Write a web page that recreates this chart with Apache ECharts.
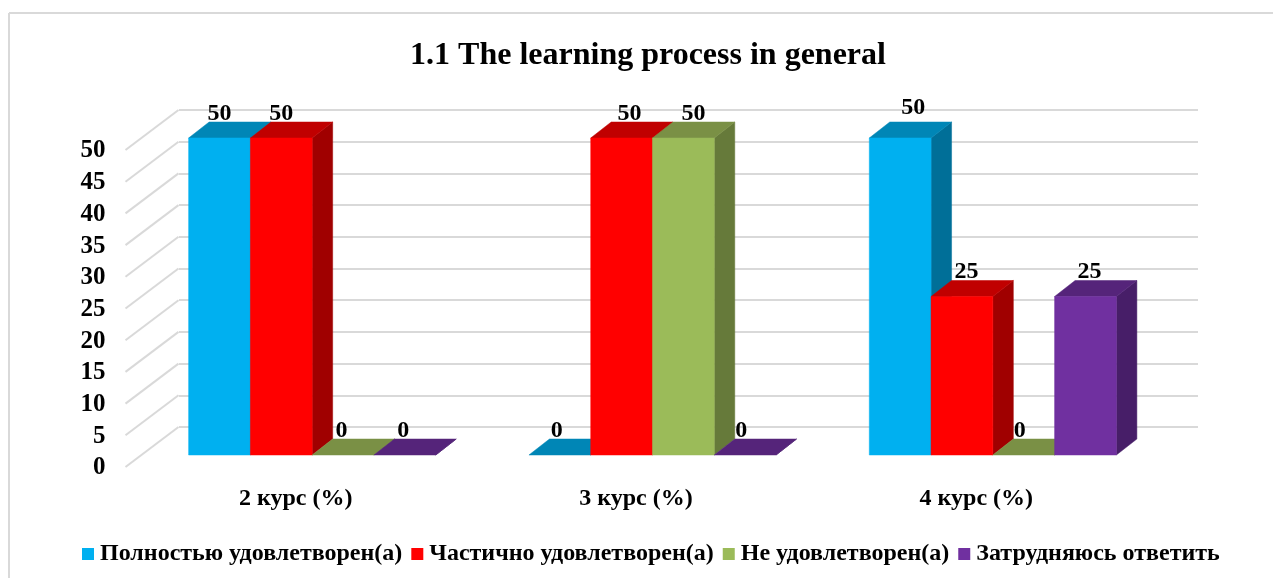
<!DOCTYPE html>
<html>
<head>
<meta charset="utf-8">
<style>
  html, body { margin: 0; padding: 0; background: #fff; }
  #chart { width: 1273px; height: 578px; }
</style>
<script src="https://cdn.jsdelivr.net/npm/echarts@6/dist/echarts.min.js"></script>
</head>
<body>
<div id="chart"></div>
<script>
const chartTitle = '1.1 The learning process in general';
const categories = ['2 курс (%)', '3 курс (%)', '4 курс (%)'];
const seriesNames = ['Полностью удовлетворен(а)', 'Частично удовлетворен(а)', 'Не удовлетворен(а)', 'Затрудняюсь ответить'];
const fullySatisfied = [50, 0, 50];
const partlySatisfied = [50, 50, 25];
const notSatisfied = [0, 50, 0];
const hardToSay = [0, 0, 25];
const yTicks = [0, 5, 10, 15, 20, 25, 30, 35, 40, 45, 50];

const seriesValues = [fullySatisfied, partlySatisfied, notSatisfied, hardToSay];

// front, top and side colours of each bar
const palette = [
    ['#00B0F0', '#0086B6', '#006F98'],
    ['#FF0000', '#C00000', '#A00000'],
    ['#9BBB59', '#7A9045', '#667A3A'],
    ['#7030A0', '#55247A', '#471E68']
];

// oblique projection: where the bars stand between the front edge and the back wall
const wallShift = [53, -40];
const barFront = [16.5, -12];
const barDepth = [20.5, -16];
const barRatio = 0.1815;

// hand placed data labels in the original, series by category
const labelNudge = [
    [[0, 0], [-3, 0], [13, -6]],
    [[0, 0], [8, 0], [4.5, 0]],
    [[-1.5, 0], [10, 0], [-4, 0]],
    [[-1.5, 0], [-4, 0], [4, 0]]
];

const font = 'Liberation Serif';

function poly(points, color) {
    return {
        type: 'polygon',
        shape: { points: points },
        style: { fill: color, stroke: color, lineWidth: 0.5 }
    };
}

function barItem(seriesIndex) {
    return function (params, api) {
        const cat = api.value(0);
        const value = api.value(1);
        const band = api.size([1, 0])[0];
        const w = band * barRatio;
        const base = api.coord([cat, 0]);
        const top = api.coord([cat, value]);
        const x0 = base[0] + barFront[0] + (seriesIndex - 2) * w;
        const x1 = x0 + w;
        const yBase = base[1] + barFront[1];
        const yTop = top[1] + barFront[1];
        const dx = barDepth[0];
        const dy = barDepth[1];
        const nudge = labelNudge[seriesIndex][cat];
        const colors = palette[seriesIndex];
        const children = [
            poly([[x1, yBase], [x1 + dx, yBase + dy], [x1 + dx, yTop + dy], [x1, yTop]], colors[2]),
            poly([[x0, yTop], [x1, yTop], [x1 + dx, yTop + dy], [x0 + dx, yTop + dy]], colors[1])
        ];
        if (value > 0) {
            children.push({
                type: 'rect',
                shape: { x: x0, y: yTop, width: w, height: yBase - yTop },
                style: { fill: colors[0], stroke: colors[0], lineWidth: 0.5 }
            });
        }
        children.push({
            type: 'text',
            z2: 100,
            style: {
                x: x0 + w / 2 + nudge[0],
                y: yTop + dy - 8.5 + nudge[1],
                text: String(value),
                fill: '#000',
                font: 'bold 24px "' + font + '"',
                align: 'center',
                verticalAlign: 'middle'
            }
        });
        return { type: 'group', children: children };
    };
}

// left wall diagonals with the tick number in front of each
function wallItem(params, api) {
    const tick = api.value(0);
    const start = api.coord([0, tick]);
    const x = api.coord([0, 0])[0] - api.size([1, 0])[0] / 2;
    return {
        type: 'group',
        children: [
            {
                type: 'line',
                shape: { x1: x, y1: start[1], x2: x + wallShift[0], y2: start[1] + wallShift[1] },
                style: { stroke: '#D9D9D9', lineWidth: 2 }
            },
            {
                type: 'text',
                style: {
                    x: x - 20,
                    y: start[1] + 1,
                    text: String(tick),
                    fill: '#000',
                    font: 'bold 25px "' + font + '"',
                    align: 'right',
                    verticalAlign: 'middle'
                }
            }
        ]
    };
}

const chart = echarts.init(document.getElementById('chart'));

const series = [{
    type: 'custom',
    silent: true,
    xAxisIndex: 0,
    yAxisIndex: 0,
    renderItem: wallItem,
    data: yTicks.map(t => [t]),
    encode: { y: 0 },
    clip: false,
    z: 1
}];

seriesNames.forEach((name, i) => {
    series.push({
        name: name,
        type: 'custom',
        xAxisIndex: 0,
        yAxisIndex: 0,
        itemStyle: { color: palette[i][0] },
        renderItem: barItem(i),
        data: seriesValues[i].map((v, c) => [c, v]),
        encode: { x: 0, y: 1 },
        z: 2 + i
    });
});

chart.setOption({
    animation: false,
    backgroundColor: '#fff',
    title: {
        text: chartTitle,
        left: 643,
        top: 35,
        textAlign: 'center',
        textStyle: { fontFamily: font, fontWeight: 'bold', fontSize: 32, color: '#000' }
    },
    legend: {
        data: seriesNames,
        left: 77,
        top: 537,
        icon: 'rect',
        itemWidth: 12,
        itemHeight: 12,
        itemGap: 9,
        textStyle: { fontFamily: font, fontWeight: 'bold', fontSize: 24, color: '#000', padding: [0, 0, 0, 1] }
    },
    graphic: [
        {
            type: 'line',
            silent: true,
            shape: { x1: 9, y1: 13, x2: 1273, y2: 13 },
            style: { stroke: '#D9D9D9', lineWidth: 2 }
        },
        {
            type: 'line',
            silent: true,
            shape: { x1: 9, y1: 13, x2: 9, y2: 578 },
            style: { stroke: '#D9D9D9', lineWidth: 2 }
        }
    ],
    grid: [
        { left: 125.5, top: 150, width: 1021, height: 317 },
        { left: 179, top: 110, width: 1019, height: 317 }
    ],
    xAxis: [
        {
            type: 'category',
            gridIndex: 0,
            data: categories,
            axisLine: { show: false },
            axisTick: { show: false },
            axisLabel: { fontFamily: font, fontWeight: 'bold', fontSize: 24, color: '#000', margin: 20 }
        },
        { type: 'category', gridIndex: 1, data: categories, show: false }
    ],
    yAxis: [
        {
            type: 'value',
            gridIndex: 0,
            min: 0,
            max: 50,
            interval: 5,
            axisLine: { show: false },
            axisTick: { show: false },
            splitLine: { show: false },
            axisLabel: { show: false }
        },
        {
            type: 'value',
            gridIndex: 1,
            min: 0,
            max: 50,
            interval: 5,
            axisLine: { show: false },
            axisTick: { show: false },
            axisLabel: { show: false },
            splitLine: { show: true, lineStyle: { color: '#D9D9D9', width: 2 } }
        }
    ],
    series: series
});

window.addEventListener('resize', () => chart.resize());
</script>
</body>
</html>
